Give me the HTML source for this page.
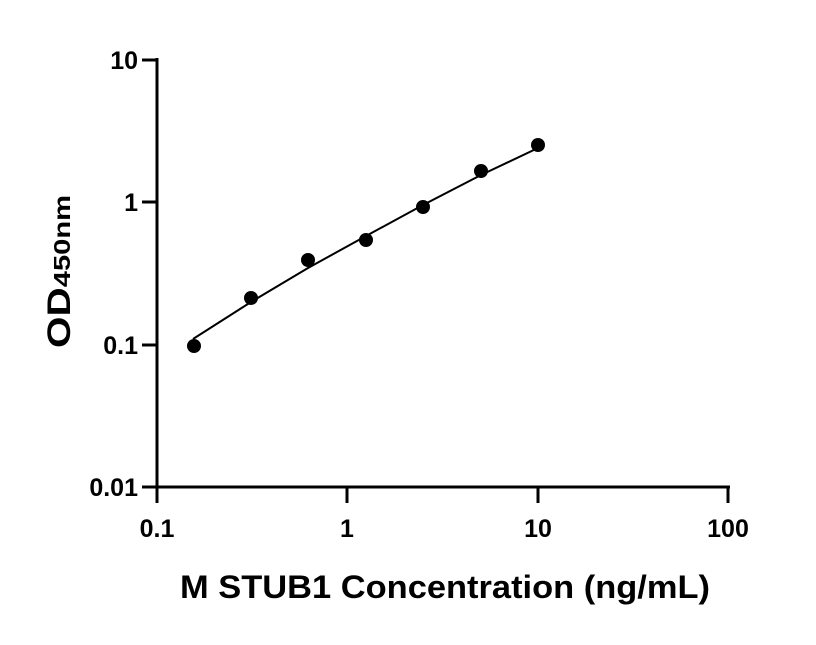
<!DOCTYPE html>
<html><head><style>body{margin:0;background:#fff}</style></head><body>
<svg width="816" height="640" xmlns="http://www.w3.org/2000/svg" font-family="Liberation Sans, sans-serif" font-weight="bold">
<g stroke="#000" stroke-width="3" fill="none">
<line x1="157" y1="58" x2="157" y2="503"/>
<line x1="142" y1="487" x2="730" y2="487"/>
<line x1="142" y1="60" x2="157" y2="60"/>
<line x1="142" y1="202" x2="157" y2="202"/>
<line x1="142" y1="345" x2="157" y2="345"/>
<line x1="347" y1="487" x2="347" y2="503"/>
<line x1="538" y1="487" x2="538" y2="503"/>
<line x1="728" y1="487" x2="728" y2="503"/>
</g>
<polyline fill="none" stroke="#000" stroke-width="2" points="193,339 251,302 308,268 366,236 423,205 481,175 538,148"/>
<g fill="#000">
<circle cx="194" cy="346" r="7"/><circle cx="251" cy="298" r="7"/><circle cx="308" cy="260" r="7"/>
<circle cx="366" cy="240" r="7"/><circle cx="423" cy="207" r="7"/><circle cx="481" cy="171" r="7"/><circle cx="538" cy="145" r="7"/>
</g>
<g font-size="25" text-anchor="end">
<text x="138" y="69">10</text><text x="138" y="211">1</text><text x="138" y="354">0.1</text><text x="138" y="496">0.01</text>
</g>
<g font-size="25" text-anchor="middle">
<text x="157" y="537">0.1</text><text x="347" y="537">1</text><text x="538" y="537">10</text><text x="728" y="537">100</text>
</g>
<text x="180" y="598" font-size="32" textLength="530" lengthAdjust="spacingAndGlyphs">M STUB1 Concentration (ng/mL)</text>
<text transform="translate(70,348) rotate(-90)" font-size="32" textLength="153" lengthAdjust="spacingAndGlyphs">OD<tspan font-size="23">450nm</tspan></text>
</svg>
</body></html>
